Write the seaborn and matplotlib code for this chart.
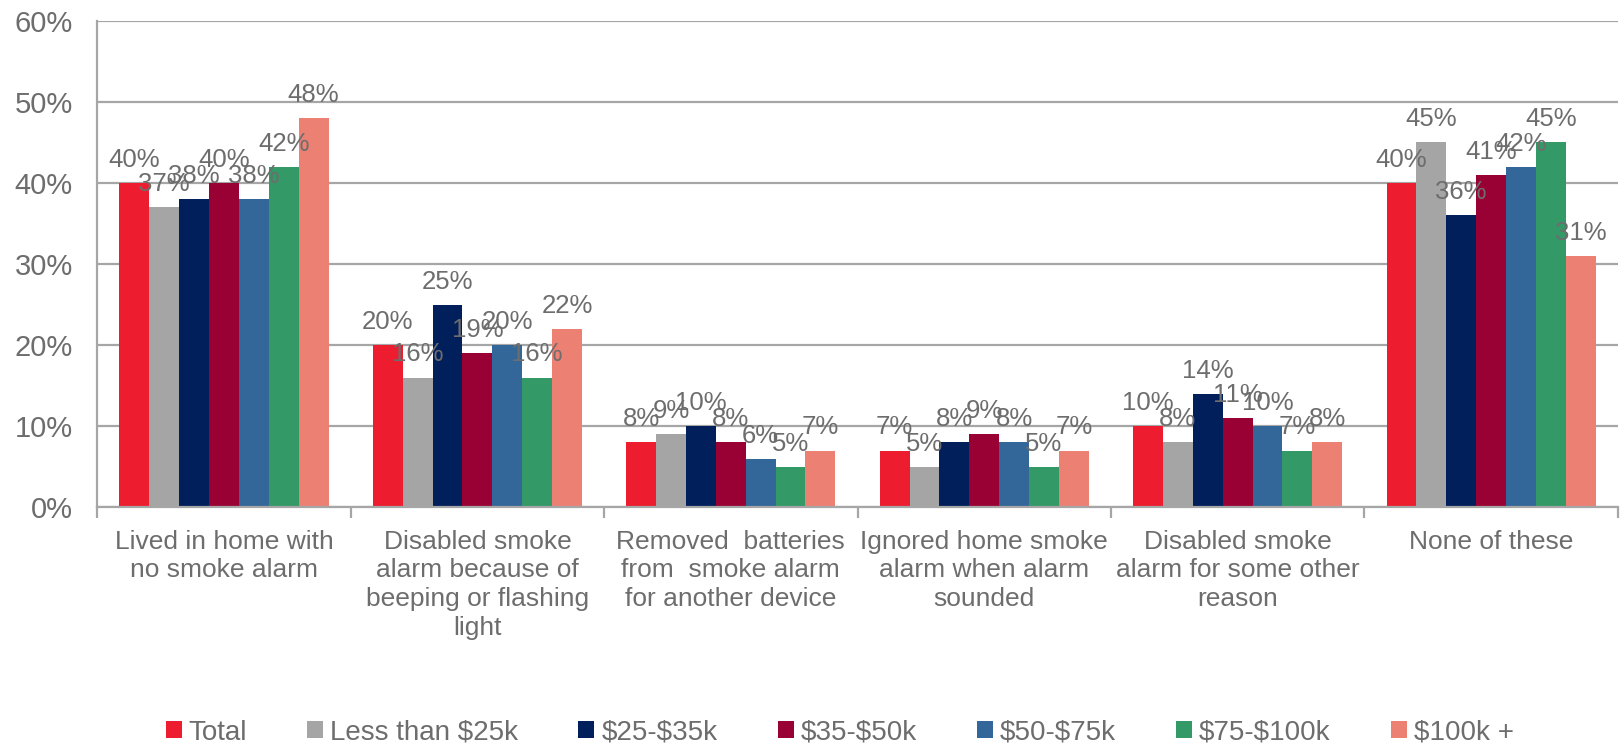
import matplotlib
matplotlib.use("Agg")
import matplotlib.pyplot as plt
import seaborn as sns
import pandas as pd
from matplotlib.ticker import FixedLocator, PercentFormatter

categories = [
    "Lived in home with\nno smoke alarm",
    "Disabled smoke\nalarm because of\nbeeping or flashing\nlight",
    "Removed  batteries\nfrom  smoke alarm\nfor another device",
    "Ignored home smoke\nalarm when alarm\nsounded",
    "Disabled smoke\nalarm for some other\nreason",
    "None of these",
]
groups = ["Total", "Less than $25k", "$25-$35k", "$35-$50k",
          "$50-$75k", "$75-$100k", "$100k +"]

total = [40, 20, 8, 7, 10, 40]
lt25k = [37, 16, 9, 5, 8, 45]
k25_35 = [38, 25, 10, 8, 14, 36]
k35_50 = [40, 19, 8, 9, 11, 41]
k50_75 = [38, 20, 6, 8, 10, 42]
k75_100 = [42, 16, 5, 5, 7, 45]
k100_plus = [48, 22, 7, 7, 8, 31]

colors = ["#ED1C2E", "#A5A5A5", "#001F5B", "#990033",
          "#336699", "#339966", "#EB8073"]

series = [total, lt25k, k25_35, k35_50, k50_75, k75_100, k100_plus]
rows = []
for g, vals in zip(groups, series):
    for c, v in zip(categories, vals):
        rows.append({"category": c, "group": g, "value": v})
df = pd.DataFrame(rows)

sns.set_theme(style="white")
plt.rcParams["font.family"] = ["Liberation Sans", "DejaVu Sans"]
plt.rcParams["text.parse_math"] = False

text_c = "#6D6D6D"
grid_c = "#A6A6A6"

fig = plt.figure(figsize=(16.21, 7.46), dpi=100)
ax = fig.add_axes([0.060, 0.320, 0.938, 0.652])

sns.barplot(data=df, x="category", y="value", hue="group",
            hue_order=groups, order=categories, palette=colors,
            width=0.825, saturation=1, ax=ax, legend=True, errorbar=None,
            linewidth=0)

for cont in ax.containers:
    ax.bar_label(cont, labels=[f"{int(round(b.get_height()))}%" for b in cont],
                 padding=8, fontsize=18.5, color=text_c)

ax.set_ylim(0, 60)
ax.set_xlim(-0.5, len(categories) - 0.5)
ax.yaxis.set_major_locator(FixedLocator(range(0, 61, 10)))
ax.yaxis.set_major_formatter(PercentFormatter(decimals=0))
ax.grid(axis="y", color=grid_c, linewidth=1.6)
ax.set_axisbelow(True)

for s in ["top", "right"]:
    ax.spines[s].set_visible(False)
for s in ["left", "bottom"]:
    ax.spines[s].set_color(grid_c)
    ax.spines[s].set_linewidth(1.6)

ax.tick_params(axis="y", which="major", length=8, width=1.6, color=grid_c,
               labelsize=21, labelcolor=text_c, pad=9.5)
ax.tick_params(axis="x", which="major", length=0, labelsize=19,
               labelcolor=text_c, pad=16)
ax.xaxis.set_minor_locator(FixedLocator([i - 0.5 for i in range(len(categories) + 1)]))
ax.tick_params(axis="x", which="minor", length=8, width=1.6, color=grid_c,
               bottom=True)
for lbl in ax.get_xticklabels():
    lbl.set_linespacing(1.25)
    lbl.set_verticalalignment("top")

ax.set_xlabel("")
ax.set_ylabel("")

handles, labels = ax.get_legend_handles_labels()
ax.get_legend().remove()
fig.legend(handles, labels, loc="lower center", bbox_to_anchor=(0.518, -0.033),
           ncol=7, frameon=False, fontsize=20, handlelength=0.58,
           handleheight=0.58, handletextpad=0.25, columnspacing=2.16,
           labelcolor=text_c)

fig.savefig("out.png", dpi=100)
